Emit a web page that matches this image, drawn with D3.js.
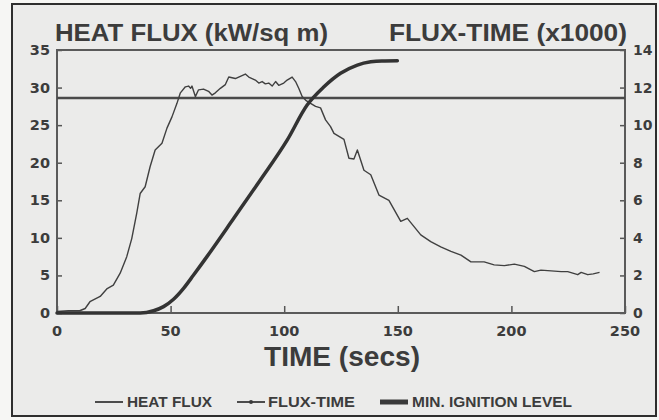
<!DOCTYPE html>
<html>
<head>
<meta charset="utf-8">
<script src="https://cdn.jsdelivr.net/npm/d3@7"></script>
<style>
  html, body { margin: 0; padding: 0; background: #f6f6f4; }
  svg { display: block; }
  text { font-family: "Liberation Sans", Arial, sans-serif; font-weight: bold; fill: #3c3c3c; }
</style>
</head>
<body>
<svg id="chart" width="659" height="420"></svg>
<script>
// heat flux (kW/sq m)
var fluxTime = [0, 5, 10, 12.4, 14.5, 19, 21.9, 24.8, 27.8, 30.7, 32.9, 35.1, 36.6, 38.8, 41, 43.2, 46.2, 48.4, 50.6, 52.8,
  54.3, 56.5, 57.9, 58.8, 59.4, 60.9, 62.3, 64.5, 66.7, 68.2, 69.7, 71.9, 74.1, 75.6, 78.5, 80.7, 82.9, 84.4, 87.3, 88.8,
  90.3, 91.7, 93.2, 94.7, 96.2, 97.6, 99.8, 101.3, 103.5, 105, 106.4, 107.9, 109.5, 111.6, 113.8, 116, 118.2, 120.4, 121.9,
  124.1, 126.3, 128.5, 130.7, 132.2, 135.1, 138.1, 141.7, 146.1, 151.3, 154.2, 160.1, 164.5, 168.9, 173.4, 177.8, 182.2,
  188, 192.4, 196.9, 201.3, 205.7, 210.1, 213, 217.5, 221.9, 224.8, 229.2, 230.7, 233.6, 236, 238.8];
var heatFlux = [0.2, 0.3, 0.3, 0.6, 1.5, 2.2, 3.2, 3.7, 5.3, 7.5, 9.9, 13.3, 15.9, 16.8, 19.5, 21.7, 22.6, 24.6, 26.1, 27.9,
  29.3, 30.1, 30.2, 29.9, 30.2, 28.8, 29.7, 29.8, 29.5, 29.0, 29.3, 29.9, 30.4, 31.4, 31.2, 31.5, 31.8, 31.4, 31.0, 30.6,
  30.8, 30.5, 30.6, 30.2, 30.8, 30.3, 30.6, 31.0, 31.4, 30.8, 29.9, 28.8, 28.3, 27.9, 27.5, 27.3, 25.7, 24.8, 23.9,
  23.5, 23.1, 20.6, 20.5, 21.7, 19.0, 18.4, 15.7, 15.0, 12.2, 12.6, 10.4, 9.5, 8.8, 8.2, 7.7, 6.8,
  6.8, 6.4, 6.3, 6.5, 6.2, 5.5, 5.7, 5.6, 5.5, 5.5, 5.1, 5.4, 5.1, 5.2, 5.4];

// flux-time (x1000), right axis
var ftTime = [0, 20, 36.6, 42.5, 46.9, 51.3, 55.7, 60.1, 66, 77.8, 89.5, 101.3, 110.1, 117.5, 124.8, 132.2, 138.1, 143, 149.8];
var ftValue = [0, 0, 0, 0.12, 0.34, 0.73, 1.31, 2.02, 3.0, 5.04, 7.08, 9.2, 11.07, 12.04, 12.76, 13.2, 13.37, 13.42, 13.43];

var ignitionLevel = 28.6;

var xTicks = [0, 50, 100, 150, 200, 250];
var leftTicks = [0, 5, 10, 15, 20, 25, 30, 35];
var rightTicks = [0, 2, 4, 6, 8, 10, 12, 14];
var legendItems = ["HEAT FLUX", "FLUX-TIME", "MIN. IGNITION LEVEL"];

var svg = d3.select("#chart");

// scanned page frame
svg.append("rect").attr("x", 12).attr("y", 4).attr("width", 644).attr("height", 412)
  .attr("fill", "#ebebea").attr("stroke", "#2e2e2e").attr("stroke-width", 2);

var plotL = 57, plotR = 625, plotT = 50, plotB = 313;
var x = d3.scaleLinear().domain([0, 250]).range([plotL, plotR]);
var y = d3.scaleLinear().domain([0, 35]).range([plotB, plotT]);
var y2 = d3.scaleLinear().domain([0, 14]).range([plotB, plotT]);

// axes, ticks pointing inward
var gL = svg.append("g").attr("transform", "translate(" + plotL + ",0)")
  .call(d3.axisRight(y).tickValues(leftTicks).tickSize(5).tickFormat(""));
var gR = svg.append("g").attr("transform", "translate(" + plotR + ",0)")
  .call(d3.axisLeft(y2).tickValues(rightTicks).tickSize(5).tickFormat(""));
var gB = svg.append("g").attr("transform", "translate(0," + plotB + ")")
  .call(d3.axisTop(x).tickValues(xTicks).tickSize(7).tickFormat(""));
[gL, gR, gB].forEach(function (g) {
  g.select(".domain").remove();
  g.selectAll("line").attr("stroke", "#555").attr("stroke-width", 1.5);
});
svg.append("rect").attr("x", plotL).attr("y", plotT).attr("width", plotR - plotL).attr("height", plotB - plotT)
  .attr("fill", "none").attr("stroke", "#5a5a5a").attr("stroke-width", 2);

// tick labels
svg.append("g").selectAll("text").data(leftTicks).join("text")
  .attr("x", 50).attr("y", function (d) { return y(d) + 5; })
  .attr("text-anchor", "end").style("font-family", "DejaVu Sans").style("font-size", "14.5px")
  .text(function (d) { return d; });
svg.append("g").selectAll("text").data(rightTicks).join("text")
  .attr("x", 633).attr("y", function (d) { return y2(d) + 5; })
  .attr("text-anchor", "start").style("font-family", "DejaVu Sans").style("font-size", "14px")
  .text(function (d) { return d; });
svg.append("g").selectAll("text").data(xTicks).join("text")
  .attr("x", function (d) { return x(d); }).attr("y", 336)
  .attr("text-anchor", "middle").style("font-family", "DejaVu Sans").style("font-size", "14.5px")
  .text(function (d) { return d; });

// titles
svg.append("text").attr("x", 55).attr("y", 41).style("font-size", "23px")
  .attr("textLength", 273).attr("lengthAdjust", "spacingAndGlyphs").text("HEAT FLUX (kW/sq m)");
svg.append("text").attr("x", 389).attr("y", 41).style("font-size", "23px")
  .attr("textLength", 238).attr("lengthAdjust", "spacingAndGlyphs").text("FLUX-TIME (x1000)");
svg.append("text").attr("x", 264).attr("y", 366).style("font-size", "27px")
  .attr("textLength", 156).attr("lengthAdjust", "spacingAndGlyphs").text("TIME (secs)");

// min ignition level
svg.append("line").attr("x1", plotL).attr("x2", plotR)
  .attr("y1", y(ignitionLevel)).attr("y2", y(ignitionLevel))
  .attr("stroke", "#4a4a4a").attr("stroke-width", 2.5);

// heat flux trace
var hfLine = d3.line().x(function (d, i) { return x(fluxTime[i]); }).y(function (d) { return y(d); });
svg.append("path").datum(heatFlux).attr("d", hfLine)
  .attr("fill", "none").attr("stroke", "#404040").attr("stroke-width", 1.4).attr("stroke-linejoin", "round");

// flux-time curve
var ftLine = d3.line().curve(d3.curveMonotoneX)
  .x(function (d, i) { return x(ftTime[i]); }).y(function (d) { return y2(d); });
svg.append("path").datum(ftValue).attr("d", ftLine)
  .attr("fill", "none").attr("stroke", "#333").attr("stroke-width", 3.5).attr("stroke-linecap", "round");

// legend
var legX = [95, 237, 380];
var legText = [127, 268, 412];
var legLen = [85, 87, 160];
var legY = 402;
var leg = svg.append("g");
legendItems.forEach(function (name, i) {
  leg.append("line").attr("x1", legX[i]).attr("x2", legX[i] + 28).attr("y1", legY).attr("y2", legY)
    .attr("stroke", "#3a3a3a").attr("stroke-width", [1.8, 1.8, 5][i]);
  if (i === 1) {
    leg.append("circle").attr("cx", legX[i] + 14).attr("cy", legY).attr("r", 2).attr("fill", "#3a3a3a");
  }
  leg.append("text").attr("x", legText[i]).attr("y", legY + 5).style("font-size", "14px")
    .attr("textLength", legLen[i]).attr("lengthAdjust", "spacingAndGlyphs").text(name);
});
</script>
</body>
</html>
